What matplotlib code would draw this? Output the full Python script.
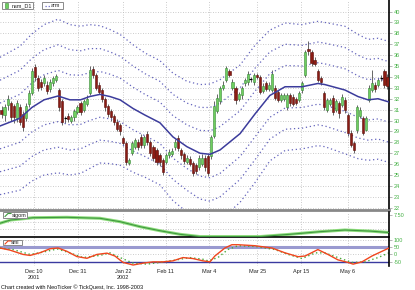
import matplotlib
matplotlib.use("Agg")
import matplotlib.pyplot as plt
from matplotlib.patches import Rectangle

# daily bars (Nov 2001 - May 2002), one entry per trading day
opens = [31.0, 30.5, 31.4, 31.6, 31.3, 30.2, 31.2, 30.6, 30.2, 31.5,
         32.5, 34.9, 33.9, 33.5, 33.4, 33.3, 32.9, 33.4, 33.7, 32.8,
         31.8, 30.1, 30.4, 30.0, 30.3, 30.8, 31.6, 31.0, 31.5, 32.5,
         34.7, 34.2, 33.3, 32.8, 32.0, 31.3, 30.9, 30.4, 29.9, 29.6,
         28.4, 27.9, 26.1, 27.0, 27.6, 28.0, 28.5, 27.8, 28.8, 28.0,
         27.6, 27.3, 26.8, 26.4, 26.2, 26.8, 26.9, 27.6, 28.4, 27.3,
         26.9, 26.2, 26.5, 26.1, 25.9, 25.7, 26.0, 26.6, 26.7, 26.7,
         28.6, 30.9, 31.8, 33.0, 33.7, 34.5, 33.0, 33.0, 32.0, 32.3,
         33.4, 33.5, 33.7, 33.5, 34.2, 34.0, 32.7, 33.4, 32.9, 32.8,
         33.0, 32.6, 31.9, 32.0, 31.2, 32.3, 32.2, 32.0, 31.9, 32.8,
         34.2, 36.6, 36.3, 35.6, 34.5, 33.9, 32.5, 31.0, 31.5, 32.1,
         31.0, 31.6, 31.4, 31.9, 30.5, 28.9, 27.9, 29.1, 30.4, 30.2,
         29.1, 31.9, 32.8, 33.3, 33.3, 33.9, 34.5, 34.0]
highs = [31.3, 31.5, 32.3, 31.8, 31.5, 31.9, 31.5, 30.9, 31.6, 32.8,
         34.8, 35.2, 34.2, 33.8, 34.2, 33.6, 33.8, 34.1, 34.3, 33.0,
         32.0, 30.4, 30.7, 30.5, 31.1, 31.4, 31.8, 32.0, 32.3, 35.0,
         35.0, 34.4, 33.5, 33.0, 32.2, 31.5, 31.1, 30.6, 30.1, 29.8,
         28.6, 28.1, 26.6, 28.1, 28.4, 28.3, 28.8, 28.7, 29.0, 28.2,
         27.8, 27.5, 27.0, 26.6, 27.0, 27.4, 27.5, 28.3, 28.7, 27.5,
         27.1, 26.8, 26.7, 26.3, 26.1, 26.8, 26.9, 26.8, 26.9, 28.7,
         31.8, 32.4, 33.2, 33.6, 35.0, 34.7, 33.8, 33.2, 32.6, 33.2,
         33.9, 34.5, 34.0, 34.4, 34.4, 34.2, 33.4, 33.6, 33.5, 34.6,
         33.3, 32.8, 32.5, 32.5, 32.5, 32.5, 32.4, 32.2, 32.7, 33.6,
         36.5, 37.3, 36.5, 35.8, 34.7, 34.1, 32.7, 32.1, 32.1, 32.3,
         32.0, 31.8, 32.4, 32.2, 30.7, 29.1, 28.1, 31.4, 31.2, 30.4,
         30.4, 33.3, 34.6, 33.5, 33.9, 34.2, 34.7, 34.3]
lows = [30.2, 30.0, 31.0, 30.0, 29.8, 29.9, 29.6, 29.0, 30.0, 31.2,
        32.3, 33.6, 32.7, 32.8, 33.2, 32.4, 32.6, 33.2, 33.5, 30.9,
        29.6, 29.8, 29.9, 29.8, 30.0, 30.6, 30.5, 30.8, 31.3, 32.3,
        33.9, 32.8, 32.4, 31.7, 30.9, 30.3, 30.0, 29.6, 29.0, 28.7,
        27.7, 25.9, 25.9, 26.8, 27.4, 27.3, 27.5, 27.5, 27.8, 26.7,
        26.3, 25.9, 25.8, 25.0, 26.0, 26.6, 26.7, 27.3, 27.2, 26.5,
        26.0, 26.0, 25.8, 24.9, 25.1, 25.5, 25.8, 25.4, 24.9, 26.5,
        28.4, 30.7, 31.5, 32.8, 33.5, 34.0, 32.8, 31.5, 31.8, 32.0,
        33.2, 33.3, 33.5, 33.3, 33.8, 32.4, 32.5, 32.7, 32.7, 32.6,
        31.9, 31.7, 31.7, 31.8, 31.0, 31.3, 31.3, 31.4, 31.7, 32.5,
        34.0, 36.0, 35.0, 35.0, 33.5, 33.3, 31.0, 30.8, 31.3, 30.5,
        30.8, 30.2, 31.2, 30.7, 28.6, 27.6, 27.0, 28.9, 30.2, 28.7,
        29.0, 31.7, 32.6, 32.6, 33.1, 33.6, 33.0, 32.9]
closes = [30.6, 31.2, 32.0, 30.3, 30.3, 31.6, 29.9, 29.4, 31.3, 32.5,
          34.5, 34.0, 33.0, 33.1, 33.9, 32.7, 33.5, 33.9, 34.1, 31.2,
          29.9, 30.2, 30.1, 30.3, 30.9, 31.2, 30.8, 31.8, 32.0, 34.6,
          34.2, 33.0, 32.6, 32.0, 31.2, 30.6, 30.3, 29.9, 29.2, 29.0,
          27.9, 26.2, 26.4, 27.9, 28.2, 27.6, 27.8, 28.5, 28.0, 27.0,
          26.6, 26.2, 26.2, 25.3, 26.8, 27.1, 27.2, 28.0, 27.5, 26.8,
          26.3, 26.6, 26.0, 25.2, 25.4, 26.6, 26.6, 25.7, 25.2, 28.5,
          31.3, 32.1, 33.0, 33.3, 34.8, 34.2, 33.5, 31.9, 32.4, 33.0,
          33.7, 34.3, 33.8, 34.2, 34.0, 32.6, 33.2, 32.9, 33.3, 34.3,
          32.1, 31.9, 32.3, 32.3, 32.3, 31.6, 31.5, 31.6, 32.5, 33.4,
          36.3, 36.4, 35.3, 35.2, 33.7, 33.5, 31.2, 31.9, 31.9, 30.8,
          31.8, 30.7, 32.2, 31.0, 28.9, 27.8, 27.3, 31.2, 31.0, 28.9,
          30.2, 33.0, 33.4, 32.9, 33.7, 33.9, 33.3, 33.2]

# "arm" moving average and its band step, read at sample bars
ma_x = [-0.5, 6, 10, 14, 18.6, 22.5, 26, 29, 32.4, 35.7, 39, 43.3, 47.2, 52.1,
        56.4, 61, 65.3, 68.6, 71.9, 78.5, 83.4, 88.3, 93.3, 98.9, 104.1,
        106.4, 113, 117.3, 120.6, 123.9, 127.5]
ma_vals = [29.5, 30.2, 31.2, 31.9, 32.25, 31.9, 31.9, 32.2, 32.4, 32.2, 31.9,
           31.1, 30.5, 29.8, 28.5, 27.6, 27.0, 26.9, 27.3, 28.8, 30.6, 32.3,
           33.1, 33.1, 33.4, 33.3, 32.8, 32.2, 31.9, 32.0, 31.7]
band_step = [2.1, 2.2, 2.25, 2.3, 2.35, 2.3, 2.25, 2.2, 2.1, 2.05, 2.0, 1.95,
             1.9, 1.9, 1.95, 2.0, 2.1, 2.15, 2.15, 2.1, 2.1, 2.0, 1.95, 1.9,
             1.9, 1.9, 1.95, 1.9, 1.85, 1.85, 1.85]

# sigom panel
sigom_x = [-0.5, 3, 10.4, 21.5, 32.4, 39, 45.6, 52.1, 58.7, 65.3, 75.2, 85.1,
           94.9, 104.8, 113, 121.3, 127.5]
sigom_vals = [4.7, 5.85, 6.67, 6.81, 6.46, 5.25, 3.47, 2.04, 0.76, -0.05,
              -0.05, -0.05, 0.76, 1.7, 2.29, 1.9, 1.4]

# smi panel: smi line and its signal
smi_x = [-0.5, 2.8, 7.1, 9.4, 12.7, 16, 18.6, 21.5, 24.8, 28.1, 31.4, 34.7,
         37.3, 40, 43.3, 46.6, 49.8, 53.1, 56.4, 59.7, 63, 66.3, 68.6, 70.2,
         73.5, 75.8, 77.8, 83.4, 89, 93.3, 97.6, 99.9, 104.1, 107.4, 110.7,
         114, 115.7, 118.6, 121.9, 125.2, 127.5]
smi_vals = [45, 30, 0, -7, 12, 40, 45, 22, -15, -27, 0, 9, -11, -56, -74,
            -61, -52, -52, -45, -22, -29, -45, -52, -11, 45, 68, 68, 61, 45,
            11, -16, -11, 34, 0, -38, -56, -68, -52, -11, 22, 45]
sig_x = [-0.5, 3.8, 9.4, 13.6, 18.3, 22.5, 26.8, 32.4, 35.7, 39, 43.3, 47.9,
         52.1, 57.7, 62, 66.3, 68, 71.2, 74.5, 77.8, 83.4, 90, 94.3, 98.9,
         103.2, 106.4, 110.7, 115.3, 119.6, 123.9, 127.5]
sig_vals = [45, 34, 0, 16, 38, 11, -22, -7, 11, -22, -61, -68, -56, -38, -22,
            -34, -45, -22, 34, 61, 56, 34, 0, -29, 11, 11, -22, -56, -52,
            -22, 11]

tick_pos = [10.7, 25.2, 40.0, 54.1, 68.3, 84.1, 98.5, 114.0]
tick_labels = ["Dec 10\n2001", "Dec 31", "Jan 22\n2002", "Feb 11", "Mar 4",
               "Mar 25", "Apr 15", "May 6"]

plt.rcParams["font.family"] = ["Liberation Sans", "DejaVu Sans"]
W, H = 415, 290
fig = plt.figure(figsize=(W / 100, H / 100), dpi=100)
fig.patch.set_facecolor("white")


def px_axes(top, bottom):
    return fig.add_axes([0, 1 - bottom / H, 389 / W, (bottom - top) / H])


ax = px_axes(0, 210)
ax2 = px_axes(212, 237)
ax3 = px_axes(238, 266)

grid_kw = dict(color="#bbbbbb", lw=0.6, ls=(0, (1, 2)))
green_txt = "#44b044"
for a in (ax, ax2, ax3):
    a.set_xlim(-0.5, 127.5)
    a.set_facecolor("white")
    for s in ("top", "left", "bottom"):
        a.spines[s].set_visible(False)
    a.spines["right"].set_color("black")
    a.spines["right"].set_linewidth(1.2)
    a.yaxis.tick_right()
    a.tick_params(axis="y", labelsize=4, labelcolor=green_txt, length=2,
                  width=0.5, color="#999999", pad=1.5)
    a.set_xticks(tick_pos)
    for t in tick_pos:
        a.axvline(t, zorder=0, **grid_kw)

# main price panel
ax.set_ylim(21.79, 41.06)
ax.set_yticks(range(22, 41))
for p in range(22, 41):
    ax.axhline(p, zorder=0, **grid_kw)
ax.tick_params(axis="x", length=0, labelbottom=False)

for i in range(len(closes)):
    o, h, l, c = opens[i], highs[i], lows[i], closes[i]
    ax.vlines(i, l, h, color="#666666", lw=0.7, zorder=2)
    if abs(c - o) < 0.15:
        ax.hlines(c, i - 0.45, i + 0.45, color="black", lw=0.9, zorder=3)
    elif c > o:
        ax.bar(i, c - o, bottom=o, width=0.7, color="#6fcf5f",
               edgecolor="#3a8a3a", lw=0.4, zorder=3)
    else:
        ax.bar(i, o - c, bottom=c, width=0.7, color="#8b1c14",
               edgecolor="#5a0e0a", lw=0.4, zorder=3)

ax.plot(ma_x, ma_vals, color="#3c3c9c", lw=1.1, zorder=4)
for k in (1, 2, 3):
    up = [m + k * s for m, s in zip(ma_vals, band_step)]
    dn = [m - k * s for m, s in zip(ma_vals, band_step)]
    ax.plot(ma_x, up, color="#6464bc", lw=0.9, ls=(0, (1, 2.2)), zorder=2)
    ax.plot(ma_x, dn, color="#6464bc", lw=0.9, ls=(0, (1, 2.2)), zorder=2)
ax.spines["bottom"].set_visible(True)
ax.spines["bottom"].set_color("#888888")
ax.spines["bottom"].set_linewidth(2)

# sigom panel
ax2.set_ylim(-0.2, 8.7)
ax2.set_yticks([7.5])
ax2.set_yticklabels(["7.50"])
ax2.tick_params(axis="x", length=0, labelbottom=False)
for lv in (2.5, 5.0):
    ax2.axhline(lv, zorder=0, **grid_kw)
ax2.plot(sigom_x, sigom_vals, color="#8edc7c", lw=2.2, zorder=2)
ax2.plot(sigom_x, sigom_vals, color="#3f9a3f", lw=0.8, zorder=3)
ax2.spines["bottom"].set_visible(True)
ax2.spines["bottom"].set_color("black")
ax2.spines["bottom"].set_linewidth(1.2)

# smi panel
ax3.set_ylim(-81, 115)
ax3.set_yticks([100, 50, 0, -50])
ax3.set_yticklabels(["100", "50", "0", "-50"])
for lv in (100, 0):
    ax3.axhline(lv, zorder=0, **grid_kw)
ax3.axhline(50, color="#9a9ad0", lw=2.2, zorder=1)
ax3.axhline(-50, color="#3a3aa0", lw=1.0, zorder=1)
ax3.plot(sig_x, sig_vals, color="#4aaa3a", lw=1.0, ls=(0, (1, 2)), zorder=2)
ax3.plot(smi_x, smi_vals, color="#f0461e", lw=1.0, zorder=3)
ax3.set_xticklabels(tick_labels)
ax3.tick_params(axis="x", length=0, labelsize=4, labelcolor="#222222", pad=2.5)
for lab in ax3.get_xticklabels():
    lab.set_verticalalignment("top")
    lab.set_linespacing(1.25)


# legend tags in the top-left corner of each panel (pixel coordinates)
def tag(x0, y0, x1, y1, text, tx, kind):
    fig.add_artist(Rectangle((x0 / W, 1 - y1 / H), (x1 - x0) / W,
                             (y1 - y0) / H, transform=fig.transFigure,
                             fc="white", ec="#8a8a8a", lw=0.7, zorder=10))
    ym = 1 - (y0 + y1) / 2 / H
    if kind == "candle":
        fig.add_artist(Rectangle((5 / W, ym - 2.5 / H), 3 / W, 5 / H,
                                 transform=fig.transFigure, fc="#6fcf5f",
                                 ec="#3a8a3a", lw=0.4, zorder=11))
    elif kind == "dots":
        fig.add_artist(plt.Line2D([(x0 + 3) / W, (x0 + 9) / W], [ym, ym],
                                  transform=fig.transFigure, color="#6c6cc0",
                                  lw=0.9, ls=(0, (1, 1.5)), zorder=11))
    else:
        fig.add_artist(plt.Line2D([(x0 + 2) / W, (x0 + 5) / W, (x0 + 8) / W],
                                  [ym - 1.5 / H, ym + 1.5 / H, ym + 1.5 / H],
                                  transform=fig.transFigure, color=kind,
                                  lw=0.8, zorder=11))
    fig.text(tx / W, ym, text, fontsize=4, va="center", ha="left",
             color="#222222", zorder=12)


tag(2, 2, 33, 9, "nsm_D1", 12, "candle")
tag(42, 2, 63, 9, "arm", 51, "dots")
tag(3, 212, 27, 218, "sigom", 12, "#3f9a3f")
tag(3, 240, 22, 245, "smi", 11, "#f0461e")

fig.text(1 / W, 1 - 287 / H, "Chart created with NeoTicker \u00a9 TickQuest, Inc. 1998-2003",
         fontsize=4, va="center", ha="left", color="#111111")

fig.savefig("out.png", dpi=100, facecolor="white")
